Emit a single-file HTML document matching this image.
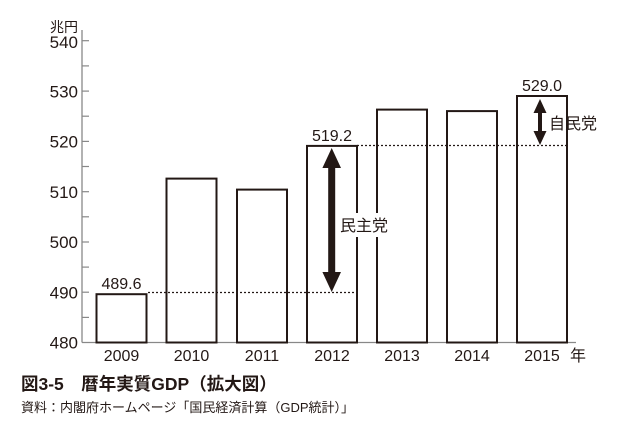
<!DOCTYPE html>
<html><head><meta charset="utf-8"><style>
html,body{margin:0;padding:0;background:#fff;}
svg text{font-family:"Liberation Sans","Noto Sans CJK JP",sans-serif;fill:#231815;}
</style></head><body>
<svg width="620" height="434" viewBox="0 0 620 434" xmlns="http://www.w3.org/2000/svg">
<line x1="82" y1="30" x2="82" y2="342.5" stroke="#888" stroke-width="1.3"/>
<line x1="82" y1="342.5" x2="576" y2="342.5" stroke="#888" stroke-width="1.3"/>
<g stroke="#888" stroke-width="1.2">
<line x1="82" y1="40.7" x2="89" y2="40.7"/><line x1="82" y1="65.9" x2="89" y2="65.9"/>
<line x1="82" y1="91.1" x2="89" y2="91.1"/><line x1="82" y1="116.2" x2="89" y2="116.2"/>
<line x1="82" y1="141.4" x2="89" y2="141.4"/><line x1="82" y1="166.5" x2="89" y2="166.5"/>
<line x1="82" y1="191.7" x2="89" y2="191.7"/><line x1="82" y1="216.8" x2="89" y2="216.8"/>
<line x1="82" y1="242" x2="89" y2="242"/><line x1="82" y1="267.1" x2="89" y2="267.1"/>
<line x1="82" y1="292.2" x2="89" y2="292.2"/><line x1="82" y1="317.4" x2="89" y2="317.4"/>
</g>
<g font-size="17" text-anchor="end">
<text x="78" y="48">540</text><text x="78" y="97.5">530</text><text x="78" y="147.5">520</text>
<text x="78" y="198">510</text><text x="78" y="248">500</text><text x="78" y="298.5">490</text>
<text x="78" y="348.5">480</text>
</g>
<text x="78" y="32" font-size="14" text-anchor="end">兆円</text>
<line x1="148" y1="292.5" x2="357" y2="292.5" stroke="#231815" stroke-width="1.2" stroke-dasharray="2,2"/>
<line x1="357" y1="145.5" x2="567" y2="145.5" stroke="#231815" stroke-width="1.2" stroke-dasharray="2,2"/>
<g fill="none" stroke="#231815" stroke-width="2">
<rect x="96.5" y="294.2" width="50" height="48.3"/>
<rect x="166.5" y="178.6" width="50" height="163.9"/>
<rect x="237" y="189.6" width="50" height="152.9"/>
<rect x="307" y="145.9" width="50" height="196.6"/>
<rect x="377" y="109.6" width="50" height="232.9"/>
<rect x="447" y="111.1" width="50" height="231.4"/>
<rect x="517" y="96" width="50" height="246.5"/>
</g>
<g fill="#231815">
<polygon points="331.7,148 341,168 335.2,168 335.2,272 341,272 331.7,292 322.4,272 328.2,272 328.2,168 322.4,168"/>
<polygon points="540,99 546.5,113 542,113 542,131 546.5,131 540,145 533.5,131 538,131 538,113 533.5,113"/>
</g>
<rect x="339" y="213" width="50" height="24" fill="#fff"/>
<text x="340" y="231" font-size="16">民主党</text>
<text x="549" y="129" font-size="16">自民党</text>
<g font-size="16" text-anchor="middle">
<text x="121.5" y="289">489.6</text>
<text x="332" y="141">519.2</text>
<text x="542" y="91">529.0</text>
</g>
<g font-size="16" text-anchor="middle">
<text x="121.5" y="361">2009</text><text x="191.5" y="361">2010</text><text x="262" y="361">2011</text>
<text x="332" y="361">2012</text><text x="402" y="361">2013</text><text x="472" y="361">2014</text>
<text x="542" y="361">2015</text>
</g>
<text x="570" y="361" font-size="16">年</text>
<text x="21" y="390" font-size="17.5" font-weight="bold">図3-5　暦年実質GDP（拡大図）</text>
<text x="21" y="412" font-size="13">資料：内閣府ホームページ「国民経済計算（GDP統計）」</text>
</svg>
</body></html>
